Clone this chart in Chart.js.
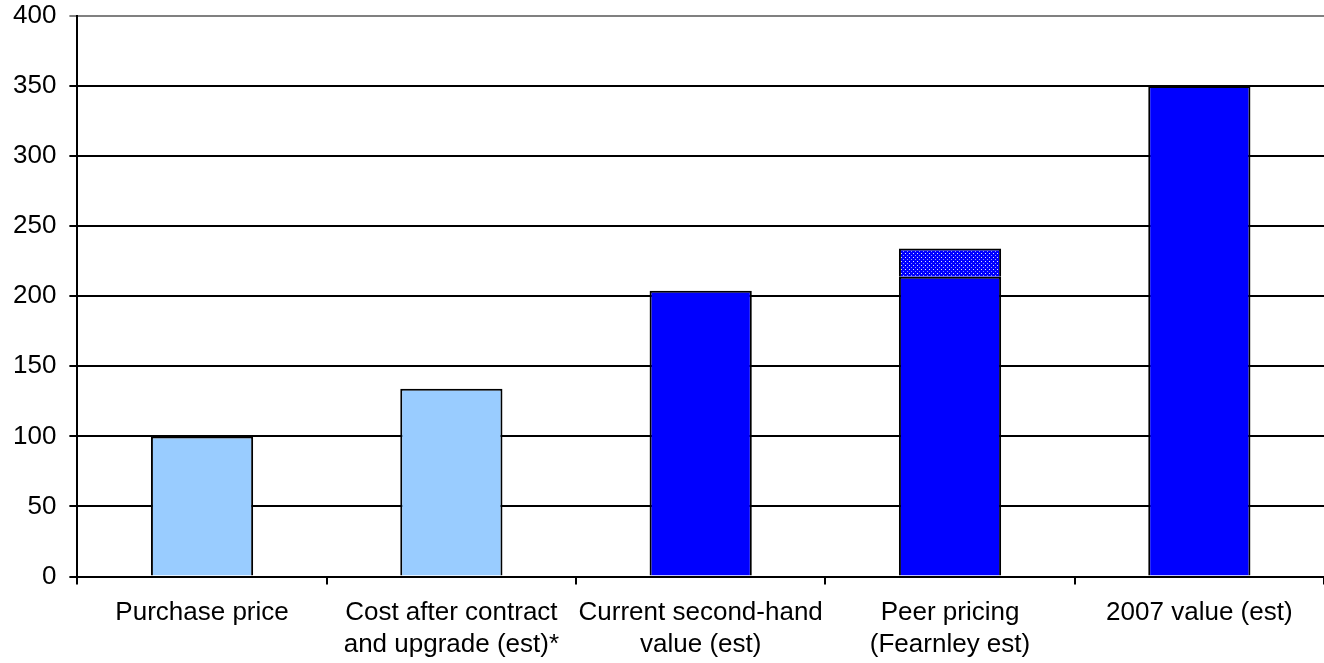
<!DOCTYPE html>
<html>
<head>
<meta charset="utf-8">
<script src="https://cdn.jsdelivr.net/npm/chart.js@4.4.0/dist/chart.umd.min.js"></script>
<style>
  html, body { margin: 0; padding: 0; background: #fff; }
  #wrap { width: 1324px; height: 663px; }
</style>
</head>
<body>
<div id="wrap"><canvas id="chart" width="1324" height="663"></canvas></div>
<script>
// Chart data
const categories = [
  'Purchase price',
  ['Cost after contract', 'and upgrade (est)*'],
  ['Current second-hand', 'value (est)'],
  ['Peer pricing', '(Fearnley est)'],
  '2007 value (est)'
];
const baseValues = [100, 134, 204, 214, 350];
const rangeValues = [0, 0, 0, 20, 0];
const yTicks = [0, 50, 100, 150, 200, 250, 300, 350, 400];

const lightBlue = '#99CCFF';
const blue = '#0000FF';
const baseColors = [lightBlue, lightBlue, blue, blue, blue];

// dotted pattern for the peer-pricing range
function makeDots() {
  const c = document.createElement('canvas');
  c.width = 4; c.height = 4;
  const g = c.getContext('2d');
  g.fillStyle = blue;
  g.fillRect(0, 0, 4, 4);
  g.fillStyle = '#e0e0ff';
  g.fillRect(1, 1, 1, 1);
  g.fillStyle = '#9090ff';
  g.fillRect(3, 3, 1, 1);
  return g.createPattern(c, 'repeat');
}

const family = '"Liberation Sans", Arial, sans-serif';

new Chart(document.getElementById('chart').getContext('2d'), {
  type: 'bar',
  data: {
    labels: categories,
    datasets: [
      {
        label: 'Value',
        data: baseValues,
        backgroundColor: baseColors,
        borderColor: '#000',
        borderWidth: 2,
        borderSkipped: 'bottom',
        barPercentage: 0.82,
        categoryPercentage: 0.5
      },
      {
        label: 'Range',
        data: rangeValues,
        backgroundColor: makeDots(),
        borderColor: '#000',
        borderWidth: 2,
        borderSkipped: 'bottom',
        barPercentage: 0.82,
        categoryPercentage: 0.5
      }
    ]
  },
  options: {
    responsive: false,
    animation: false,
    layout: { padding: { top: 0, left: 0, right: 0, bottom: -10 } },
    plugins: { legend: { display: false }, tooltip: { enabled: false } },
    scales: {
      x: {
        stacked: true,
        grid: { display: true, drawOnChartArea: false, offset: true, color: '#000', lineWidth: 2, tickLength: 8 },
        border: { color: '#000', width: 2 },
        ticks: { color: '#000', font: { family: family, size: 26, lineHeight: 1.24 }, padding: 12, maxRotation: 0, autoSkip: false }
      },
      y: {
        stacked: true,
        min: 0,
        max: 400,
        afterBuildTicks: function (axis) {
          axis.ticks = yTicks.map(v => ({ value: v }));
        },
        afterFit: function (axis) {
          axis.paddingTop = 16;
        },
        grid: {
          color: ctx => (ctx.tick && ctx.tick.value === 400 ? '#808080' : '#000'),
          lineWidth: 2,
          tickLength: 8
        },
        border: { color: '#000', width: 2 },
        ticks: { color: '#000', font: { family: family, size: 26, lineHeight: 1 }, padding: 13 }
      }
    }
  }
});
</script>
</body>
</html>
